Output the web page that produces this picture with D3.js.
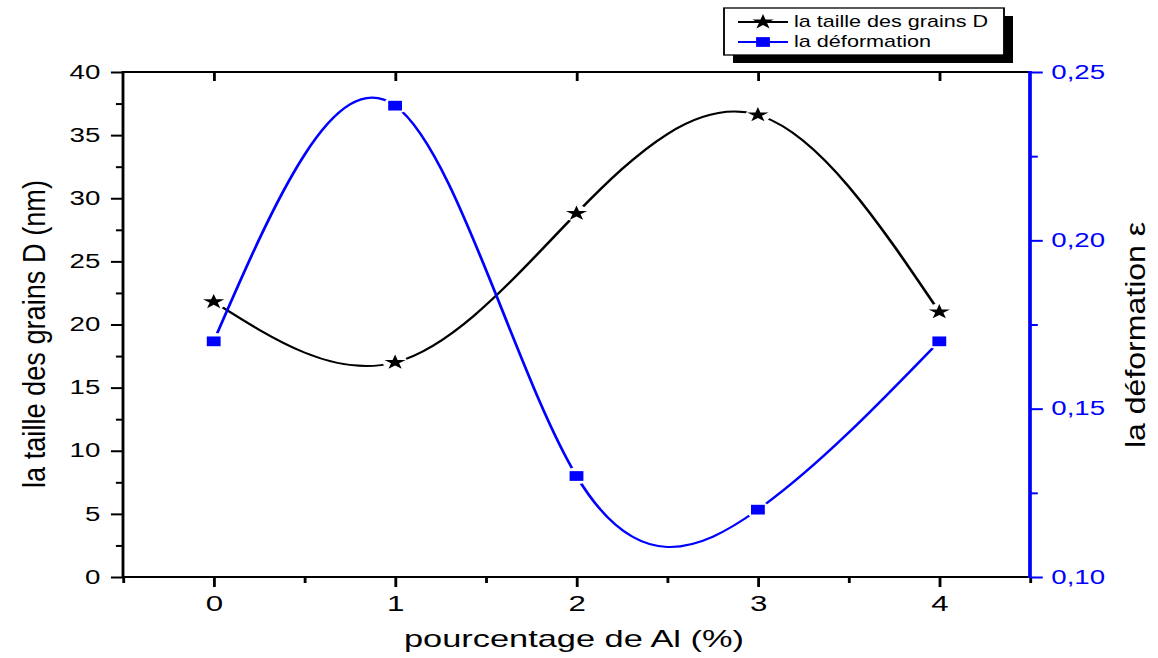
<!DOCTYPE html>
<html>
<head>
<meta charset="utf-8">
<script src="https://cdn.jsdelivr.net/npm/d3@7"></script>
<style>
  html, body { margin: 0; padding: 0; background: #fff; }
  svg { display: block; }
  text { font-family: "Liberation Sans", Arial, sans-serif; }
</style>
</head>
<body>
<svg id="chart" width="1158" height="658"></svg>
<script>
// Aluminium content (%) and the two measured quantities
const alPercent = [0, 1, 2, 3, 4];
const grainSize = [21.8, 17.0, 28.8, 36.6, 21.0];      // nm
const strain    = [0.17, 0.24, 0.13, 0.12, 0.17];      // dimensionless

const xTicks      = [0, 1, 2, 3, 4];
const xMinorTicks = [-0.5, 0.5, 1.5, 2.5, 3.5, 4.5];
const yLeftTicks  = [0, 5, 10, 15, 20, 25, 30, 35, 40];
const yLeftMinor  = [2.5, 7.5, 12.5, 17.5, 22.5, 27.5, 32.5, 37.5];
const yRightTicks = [0.10, 0.15, 0.20, 0.25];
const yRightMinor = [0.125, 0.175, 0.225];

const seriesNames = ["la taille des grains D", "la déformation"];
const xTitle = "pourcentage de Al (%)";
const yLeftTitle = "la taille des grains D (nm)";
const yRightTitle = "la déformation ε";

const BLUE = "#0000ff";
const SX = 1.42;                 // horizontal stretch of the whole figure
const W = 1158, H = 658;

const svg = d3.select("#chart");
const root = svg.append("g").attr("transform", `scale(${SX},1)`);
const ix = v => v / SX;          // screen x -> inner x

const x  = d3.scaleLinear().domain([-0.5, 4.5]).range([ix(123), ix(1030)]);
const yL = d3.scaleLinear().domain([0, 40]).range([577, 72]);
const yR = d3.scaleLinear().domain([0.10, 0.25]).range([577, 72]);

const [x0, x1] = x.range();
const yBot = 577, yTop = 72;

// ---------- axes ----------
function styleAxis(g, color) {
  g.select(".domain").remove();
  g.selectAll(".tick line").attr("stroke", color).attr("stroke-width", 2);
  g.selectAll(".tick text").attr("fill", color)
    .style("font-family", '"Liberation Sans", Arial, sans-serif');
}

// bottom
root.append("g").attr("transform", `translate(0,${yBot})`)
  .call(d3.axisBottom(x).tickValues(xMinorTicks).tickSize(6).tickFormat(""))
  .call(g => styleAxis(g, "#000"));
root.append("g").attr("transform", `translate(0,${yBot})`)
  .call(d3.axisBottom(x).tickValues(xTicks).tickSize(10).tickPadding(8).tickFormat(d3.format("d")))
  .call(g => styleAxis(g, "#000"))
  .call(g => g.selectAll(".tick text").attr("font-size", 22).attr("dy", "0.71em"));

// top (inward major ticks only)
root.append("g").attr("transform", `translate(0,${yTop})`)
  .call(d3.axisBottom(x).tickValues(xTicks).tickSize(9).tickFormat(""))
  .call(g => styleAxis(g, "#000"));

// left
root.append("g").attr("transform", `translate(${x0},0)`)
  .call(d3.axisLeft(yL).tickValues(yLeftMinor).tickSize(5).tickFormat(""))
  .call(g => styleAxis(g, "#000"));
root.append("g").attr("transform", `translate(${x0},0)`)
  .call(d3.axisLeft(yL).tickValues(yLeftTicks).tickSize(8.5).tickPadding(7.5).tickFormat(d3.format("d")))
  .call(g => styleAxis(g, "#000"))
  .call(g => g.selectAll(".tick text").attr("font-size", 19.5));

// right (blue)
const commaFmt = d => d3.format(".2f")(d).replace(".", ",");
root.append("g").attr("transform", `translate(${x1},0)`)
  .call(d3.axisRight(yR).tickValues(yRightMinor).tickSize(5.5).tickFormat(""))
  .call(g => styleAxis(g, BLUE));
root.append("g").attr("transform", `translate(${x1},0)`)
  .call(d3.axisRight(yR).tickValues(yRightTicks).tickSize(9).tickPadding(6).tickFormat(commaFmt))
  .call(g => styleAxis(g, BLUE))
  .call(g => g.selectAll(".tick text").attr("font-size", 19.5));

// frame lines
root.append("line").attr("x1", x0).attr("x2", x1).attr("y1", yTop).attr("y2", yTop)
  .attr("stroke", "#000").attr("stroke-width", 2);
root.append("line").attr("x1", x0).attr("x2", x1).attr("y1", yBot).attr("y2", yBot)
  .attr("stroke", "#000").attr("stroke-width", 2);
root.append("line").attr("x1", x0).attr("x2", x0).attr("y1", yTop - 1).attr("y2", yBot + 1)
  .attr("stroke", "#000").attr("stroke-width", 2);
root.append("line").attr("x1", x1).attr("x2", x1).attr("y1", yTop - 1).attr("y2", yBot + 1)
  .attr("stroke", BLUE).attr("stroke-width", 2.6);

// ---------- titles ----------
root.append("text")
  .attr("x", ix(574)).attr("y", 647)
  .attr("text-anchor", "middle").attr("font-size", 24)
  .attr("textLength", ix(340)).attr("lengthAdjust", "spacingAndGlyphs")
  .text(xTitle);

root.append("text")
  .attr("transform", `translate(${ix(45)},334) rotate(-90)`)
  .attr("text-anchor", "middle").attr("font-size", 22)
  .attr("textLength", 308).attr("lengthAdjust", "spacingAndGlyphs")
  .text(yLeftTitle);

root.append("text")
  .attr("transform", `translate(${ix(1145)},335) rotate(-90)`)
  .attr("text-anchor", "middle").attr("font-size", 19.5)
  .attr("textLength", 226).attr("lengthAdjust", "spacingAndGlyphs")
  .text(yRightTitle);

// ---------- series ----------
const defs = svg.append("defs");
const star = d3.symbol().type(d3.symbolStar).size(70);
const square = d3.symbol().type(d3.symbolSquare).size(95);

function drawSeries(id, values, yScale, color, symbolGen) {
  const pts = alPercent.map((a, i) => [x(a), yScale(values[i])]);
  // mask leaving a small gap in the line around each marker
  const m = defs.append("mask").attr("id", id).attr("maskUnits", "userSpaceOnUse")
    .attr("x", 0).attr("y", 0).attr("width", W).attr("height", H);
  m.append("rect").attr("x", 0).attr("y", 0).attr("width", W).attr("height", H).attr("fill", "#fff");
  m.selectAll("circle").data(pts).join("circle")
    .attr("cx", d => d[0]).attr("cy", d => d[1]).attr("r", 8.5).attr("fill", "#000");

  root.append("path")
    .attr("d", d3.line().curve(d3.curveNatural)(pts))
    .attr("fill", "none").attr("stroke", color).attr("stroke-width", 2)
    .attr("mask", `url(#${id})`);

  root.selectAll(null).data(pts).join("path")
    .attr("transform", d => `translate(${d[0]},${d[1]})`)
    .attr("d", symbolGen()).attr("fill", color);
}

drawSeries("gap-grain", grainSize, yL, "#000", star);
drawSeries("gap-strain", strain, yR, BLUE, square);

// ---------- legend ----------
const lg = root.append("g");
const bx = ix(724), by = 8, bw = ix(1004) - ix(724), bh = 47;
lg.append("rect").attr("x", bx + ix(9)).attr("y", by + 8).attr("width", bw).attr("height", bh).attr("fill", "#000");
lg.append("rect").attr("x", bx).attr("y", by).attr("width", bw).attr("height", bh)
  .attr("fill", "#fff").attr("stroke", "#000").attr("stroke-width", 1.3);

const legendItems = [
  { name: seriesNames[0], color: "#000", sym: star, y: 22, len: 194 },
  { name: seriesNames[1], color: BLUE, sym: square, y: 42, len: 137 }
];
legendItems.forEach(it => {
  lg.append("line").attr("x1", ix(738)).attr("x2", ix(788)).attr("y1", it.y).attr("y2", it.y)
    .attr("stroke", it.color).attr("stroke-width", 2);
  lg.append("path").attr("transform", `translate(${ix(763)},${it.y})`)
    .attr("d", it.sym()).attr("fill", it.color);
  lg.append("text").attr("x", ix(794)).attr("y", it.y + 5.5)
    .attr("font-size", 16.2).attr("fill", "#000")
    .attr("textLength", ix(it.len)).attr("lengthAdjust", "spacingAndGlyphs")
    .text(it.name);
});
</script>
</body>
</html>
